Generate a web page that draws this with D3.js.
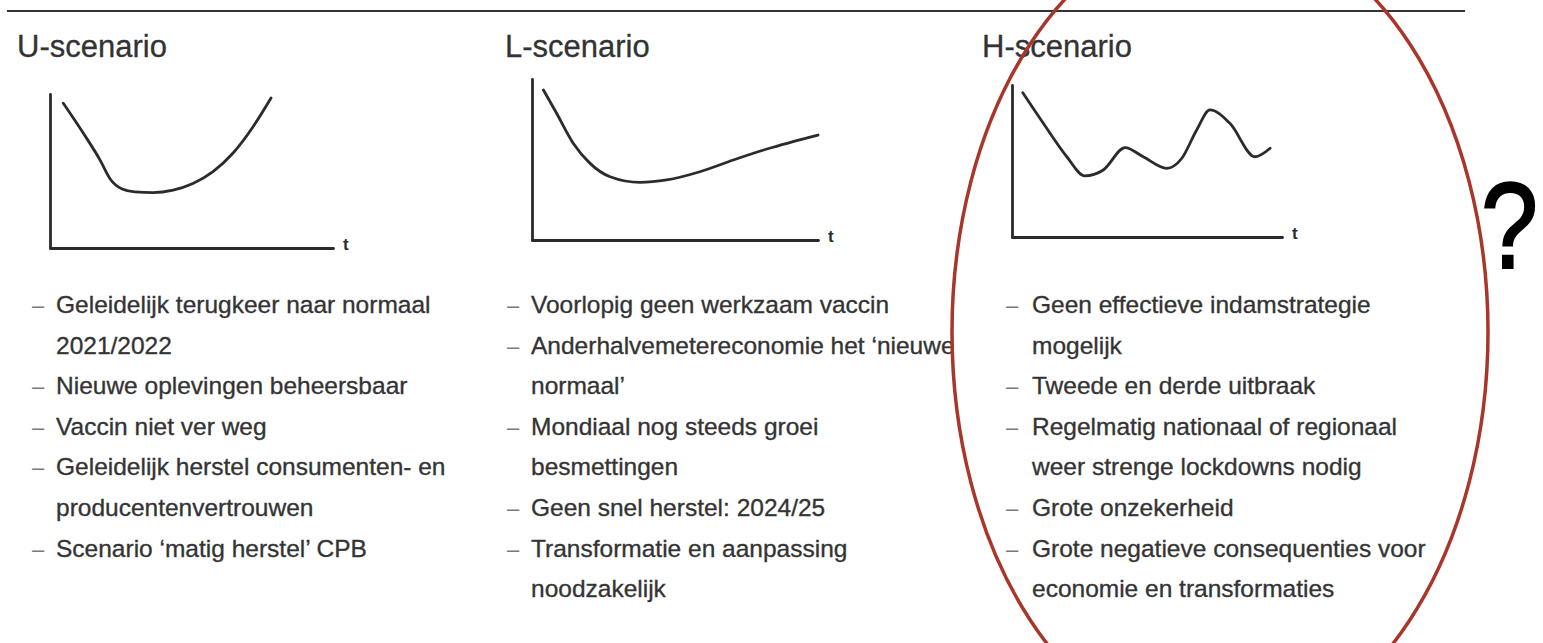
<!DOCTYPE html>
<html>
<head>
<meta charset="utf-8">
<script src="https://cdn.jsdelivr.net/npm/d3@7"></script>
<style>
  html, body { margin: 0; padding: 0; background: #ffffff; }
  svg { display: block; }
  text { font-family: "Liberation Sans", Arial, Helvetica, sans-serif; }
</style>
</head>
<body>
<svg id="chart" width="1543" height="643"></svg>
<script>
// ---------- data ----------
const scenarioTitles = ["U-scenario", "L-scenario", "H-scenario"];
const axisLabel = "t";

// curve points: [t, level] in abstract units (0..100)
const uCurve = [[4.7,94.0],[11.8,74.5],[17.7,57.1],[21.2,45.0],[25.5,38.3],[30.0,36.4],[36.4,36.0],[43.5,37.6],[50.5,41.9],[57.6,49.6],[64.7,61.7],[71.7,78.6],[78.1,97.4]];
const lCurve = [[4.0,93.2],[8.6,78.7],[14.4,60.1],[20.3,47.6],[27.3,39.3],[37.8,35.8],[47.1,37.3],[58.7,42.4],[70.4,49.7],[82.1,56.5],[100,65.2]];
const hCurve = [[4.0,94.9],[11.6,74.8],[20.3,52.8],[27.0,40.2],[33.8,44.1],[41.9,58.8],[48.6,52.8],[57.3,45.2],[62.9,51.8],[68.4,70.4],[73.3,83.6],[80.7,74.8],[90.0,52.8],[95.6,58.4]];

const uItems = [
  ["Geleidelijk terugkeer naar normaal", "2021/2022"],
  ["Nieuwe oplevingen beheersbaar"],
  ["Vaccin niet ver weg"],
  ["Geleidelijk herstel consumenten- en", "producentenvertrouwen"],
  ["Scenario \u2018matig herstel\u2019 CPB"]
];
const lItems = [
  ["Voorlopig geen werkzaam vaccin"],
  ["Anderhalvemetereconomie het \u2018nieuwe", "normaal\u2019"],
  ["Mondiaal nog steeds groei", "besmettingen"],
  ["Geen snel herstel: 2024/25"],
  ["Transformatie en aanpassing", "noodzakelijk"]
];
const hItems = [
  ["Geen effectieve indamstrategie", "mogelijk"],
  ["Tweede en derde uitbraak"],
  ["Regelmatig nationaal of regionaal", "weer strenge lockdowns nodig"],
  ["Grote onzekerheid"],
  ["Grote negatieve consequenties voor", "economie en transformaties"]
];
const questionMark = "?";

// ---------- layout ----------
const svg = d3.select("#chart");
const ink = "#2b2b2b";

const panels = [
  { title: scenarioTitles[0], curve: uCurve, items: uItems, titleX: 17, axX: [50, 333], axY: [248, 94], textX: 56, dashX: 32, clip: null },
  { title: scenarioTitles[1], curve: lCurve, items: lItems, titleX: 505, axX: [532, 818], axY: [240, 79], textX: 531, dashX: 507, clip: 956 },
  { title: scenarioTitles[2], curve: hCurve, items: hItems, titleX: 982, axX: [1012, 1282], axY: [237, 85], textX: 1032, dashX: 1006, clip: null }
];

// top rule
svg.append("line")
  .attr("x1", 7).attr("x2", 1465).attr("y1", 11).attr("y2", 11)
  .attr("stroke", "#333").attr("stroke-width", 2.2);

svg.append("defs").append("clipPath").attr("id", "clipL")
  .append("rect").attr("x", 480).attr("y", 0).attr("width", 956 - 480).attr("height", 643);

const rowStart = 313, rowStep = 40.6;

panels.forEach(p => {
  const g = svg.append("g");
  g.append("text")
    .attr("x", p.titleX).attr("y", 57)
    .attr("font-size", 31).attr("fill", "#333")
    .attr("stroke", "#333").attr("stroke-width", 0.3)
    .text(p.title);

  const x = d3.scaleLinear().domain([0, 100]).range(p.axX);
  const y = d3.scaleLinear().domain([0, 100]).range(p.axY);

  const xAxis = d3.axisBottom(x).tickValues([]).tickSizeOuter(0);
  const yAxis = d3.axisLeft(y).tickValues([]).tickSizeOuter(0);

  g.append("g").attr("transform", `translate(0,${p.axY[0]})`).call(xAxis)
    .select(".domain").attr("stroke", ink).attr("stroke-width", 2.8).attr("stroke-linecap", "round");
  g.append("g").attr("transform", `translate(${p.axX[0]},0)`).call(yAxis)
    .select(".domain").attr("stroke", ink).attr("stroke-width", 2.8).attr("stroke-linecap", "round");

  g.append("text")
    .attr("x", p.axX[1] + 10).attr("y", p.axY[0] + 2)
    .attr("font-size", 17).attr("font-weight", "bold").attr("fill", ink)
    .text(axisLabel);

  const line = d3.line().x(d => x(d[0])).y(d => y(d[1])).curve(d3.curveMonotoneX);
  g.append("path").datum(p.curve)
    .attr("d", line).attr("fill", "none")
    .attr("stroke", ink).attr("stroke-width", 2.8).attr("stroke-linecap", "round").attr("stroke-linejoin", "round");

  // bullet list
  const tg = g.append("g");
  if (p.clip) tg.attr("clip-path", "url(#clipL)");
  let row = 0;
  p.items.forEach(item => {
    item.forEach((ln, j) => {
      const yy = rowStart + row * rowStep;
      if (j === 0) {
        tg.append("text").attr("x", p.dashX).attr("y", yy)
          .attr("font-size", 22).attr("fill", "#7a7a7a").text("\u2013");
      }
      tg.append("text").attr("x", p.textX).attr("y", yy)
        .attr("font-size", 24.5).attr("fill", "#333")
        .attr("stroke", "#3a3a3a").attr("stroke-width", 0.35)
        .text(ln);
      row++;
    });
  });
});

// annotation ellipse
svg.append("ellipse")
  .attr("cx", 1220).attr("cy", 332).attr("rx", 268).attr("ry", 408)
  .attr("fill", "none").attr("stroke", "#a9362a").attr("stroke-width", 3.5);

svg.append("text")
  .attr("transform", "translate(1481,268) scale(0.84,1)")
  .attr("font-size", 122).attr("fill", "#000")
  .attr("stroke", "#000").attr("stroke-width", 2.2)
  .text(questionMark);
</script>
</body>
</html>
